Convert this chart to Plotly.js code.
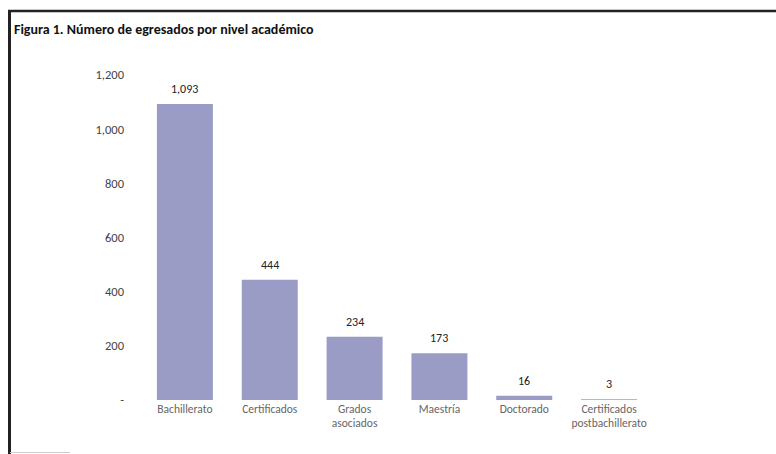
<!DOCTYPE html>
<html>
<head>
<meta charset="utf-8">
<script src="https://cdn.plot.ly/plotly-3.0.1.min.js"></script>
<style>html,body{margin:0;padding:0;background:#fff;overflow:hidden;}#chart{width:776px;height:454px;}</style>
</head>
<body>
<div id="chart"></div>
<script>
var categories = ["Bachillerato", "Certificados", "Grados<br>asociados", "Maestría", "Doctorado", "Certificados<br>postbachillerato"];
var values = [1093, 444, 234, 173, 16, 3];
var yTickVals = [0, 200, 400, 600, 800, 1000, 1200];
var yTickText = ["-", "200", "400", "600", "800", "1,000", "1,200"];
var titleText = "Figura 1. Número de egresados por nivel académico";

var W = 776, H = 454;
var font = "Carlito, Lato, 'Open Sans', sans-serif";

var annotations = values.map(function (v, i) {
  return {
    x: categories[i], y: v, xref: 'x', yref: 'y',
    text: v.toLocaleString('en-US'), showarrow: false,
    yanchor: 'bottom', yshift: 6,
    font: {family: font, size: 12, color: '#222'}
  };
});
annotations.push({
  x: 12 / W, y: 1 - 30 / H, xref: 'paper', yref: 'paper',
  xanchor: 'left', yanchor: 'middle', showarrow: false,
  text: '<b>' + titleText + '</b>',
  font: {family: font, size: 14, color: '#111'}
});

var data = [{
  type: 'bar', x: categories, y: values,
  marker: {color: '#9a9cc5'},
  hoverinfo: 'none'
}];

var layout = {
  width: W, height: H,
  margin: {l: 0, r: 0, t: 0, b: 0},
  paper_bgcolor: '#fff', plot_bgcolor: '#fff',
  showlegend: false,
  bargap: 0.34,
  xaxis: {
    domain: [142.5 / W, 651.5 / W],
    showgrid: false, zeroline: false, showline: false,
    ticks: '', 
    tickfont: {family: font, size: 11.5, color: '#666'},
    fixedrange: true
  },
  yaxis: {
    domain: [(H - 400) / H, (H - 75) / H],
    range: [0, 1200],
    tickvals: yTickVals, ticktext: yTickText,
    showgrid: false, zeroline: false, showline: false,
    ticks: 'outside', ticklen: 15, tickcolor: 'rgba(0,0,0,0)',
    tickfont: {family: font, size: 12.5, color: '#444'},
    fixedrange: true
  },
  annotations: annotations,
  shapes: [
    {type: 'line', xref: 'paper', yref: 'paper', x0: 9.5 / W, x1: 9.5 / W, y0: 0, y1: 1 - 10 / H, line: {color: '#222', width: 3}},
    {type: 'line', xref: 'paper', yref: 'paper', x0: 8 / W, x1: 776 / W, y0: 1 - 11 / H, y1: 1 - 11 / H, line: {color: '#222', width: 2.5}},
    {type: 'line', xref: 'paper', yref: 'paper', x0: 10 / W, x1: 70 / W, y0: 1.5 / H, y1: 1.5 / H, line: {color: '#ccc', width: 1}}
  ]
};

Plotly.newPlot('chart', data, layout, {staticPlot: true, displayModeBar: false});
</script>
</body>
</html>
